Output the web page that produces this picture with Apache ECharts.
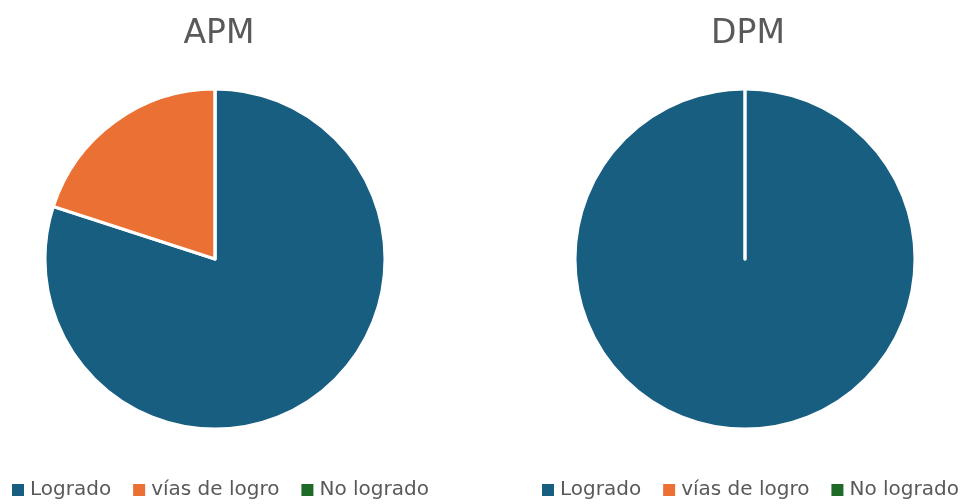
<!DOCTYPE html>
<html>
<head>
<meta charset="utf-8">
<script src="https://cdn.jsdelivr.net/npm/echarts@6/dist/echarts.min.js"></script>
<style>html,body{margin:0;padding:0;background:#fff;}#c{width:961px;height:504px;}</style>
</head>
<body>
<div id="c"></div>
<script>
const categories = ['Logrado', 'vías de logro', 'No logrado'];
const apmValues = [80, 20, 0];
const dpmValues = [100, 0, 0];
const titles = ['APM', 'DPM'];
const colors = ['#175e80', '#ea7133', '#1d6b26'];

const chart = echarts.init(document.getElementById('c'));
const font = 'DejaVu Sans';
function pie(name, values, cx) {
  return {
    name: name,
    type: 'pie',
    center: [cx, 259],
    radius: 170,
    startAngle: 90,
    clockwise: true,
    label: { show: false },
    labelLine: { show: false },
    emphasis: { disabled: true },
    itemStyle: { borderColor: '#ffffff', borderWidth: 3 },
    data: categories.map((c, i) => ({ name: c, value: values[i] })),
    animation: false
  };
}
const legendBase = {
  top: 480,
  padding: 0,
  width: 421,
  orient: 'horizontal',
  itemWidth: 14,
  itemHeight: 14,
  itemGap: 20,
  icon: 'rect',
  selectedMode: false,
  textStyle: { fontFamily: font, fontSize: 20, color: '#595959' },
  data: categories
};
const titleStyle = { fontFamily: font, fontSize: 33, fontWeight: 'normal', color: '#595959' };
chart.setOption({
  color: colors,
  animation: false,
  title: [
    { text: titles[0], left: 214, top: 13, textAlign: 'center', textStyle: titleStyle },
    { text: titles[1], left: 743, top: 13, textAlign: 'center', textStyle: titleStyle }
  ],
  legend: [
    Object.assign({}, legendBase, { left: 10 }),
    Object.assign({}, legendBase, { left: 540 })
  ],
  series: [pie(titles[0], apmValues, 215), pie(titles[1], dpmValues, 745)]
});
</script>
</body>
</html>
